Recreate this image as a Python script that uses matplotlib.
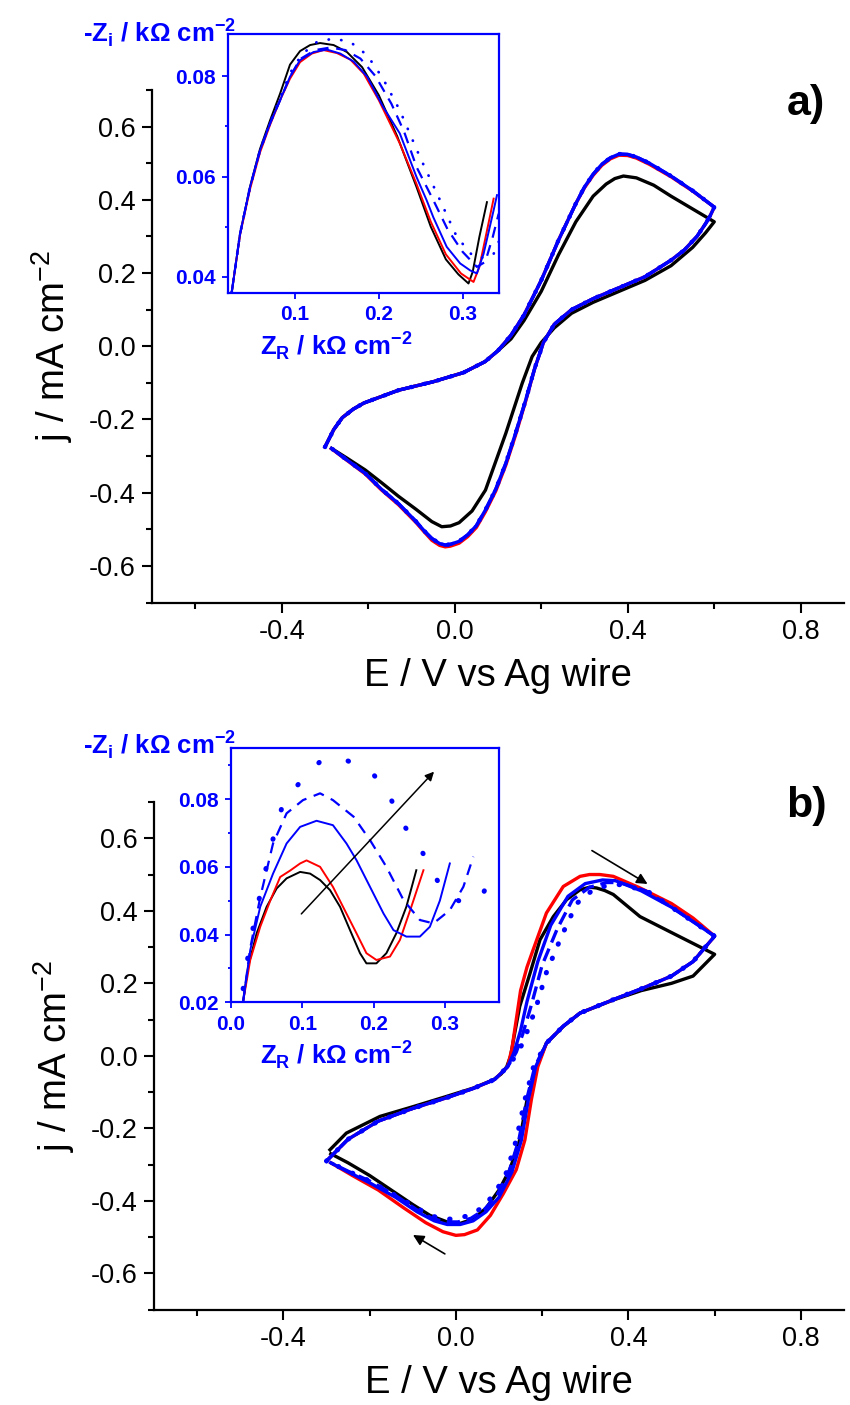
import numpy as np
import matplotlib
matplotlib.use("Agg")
import matplotlib.pyplot as plt
from matplotlib.ticker import MultipleLocator, FormatStrFormatter

plt.rcParams['font.family'] = ['Liberation Sans', 'DejaVu Sans']
plt.rcParams['axes.unicode_minus'] = False
plt.rcParams['mathtext.fontset'] = 'custom'
plt.rcParams['mathtext.rm'] = 'Liberation Sans'
plt.rcParams['mathtext.bf'] = 'Liberation Sans:bold'

# ---------------- panel a : main CVs ----------------
a_blk_E = [-0.30, -0.28, -0.26, -0.235, -0.21, -0.13, -0.05, 0.02, 0.07, 0.10, 0.13, 0.16, 0.20, 0.24, 0.28, 0.32, 0.35, 0.37, 0.39, 0.42, 0.46, 0.50, 0.55, 0.60,
           0.59, 0.58, 0.55, 0.50, 0.44, 0.38, 0.32, 0.27, 0.23, 0.20, 0.179, 0.156, 0.118, 0.071, 0.04, 0.01, -0.01, -0.03, -0.053, -0.09, -0.13, -0.17, -0.207, -0.25, -0.285]
a_blk_j = [-0.275, -0.228, -0.195, -0.172, -0.155, -0.12, -0.097, -0.072, -0.042, -0.012, 0.02, 0.07, 0.15, 0.25, 0.34, 0.41, 0.443, 0.458, 0.465, 0.46, 0.44, 0.41, 0.375, 0.34,
           0.325, 0.31, 0.27, 0.22, 0.18, 0.15, 0.12, 0.09, 0.05, 0.01, -0.028, -0.101, -0.238, -0.393, -0.45, -0.482, -0.491, -0.493, -0.479, -0.445, -0.41, -0.372, -0.338, -0.305, -0.279]

a_blu_E = [-0.30, -0.28, -0.26, -0.235, -0.21, -0.13, -0.05, 0.02, 0.07, 0.10, 0.13, 0.16, 0.20, 0.24, 0.28, 0.30, 0.32, 0.34, 0.36, 0.38, 0.40, 0.42, 0.45, 0.50, 0.55, 0.60,
           0.59, 0.58, 0.56, 0.53, 0.50, 0.44, 0.38, 0.32, 0.27, 0.23, 0.205, 0.185, 0.164, 0.14, 0.118, 0.095, 0.071, 0.05, 0.03, 0.01, -0.01, -0.022, -0.035, -0.053, -0.07, -0.09, -0.13, -0.17, -0.207, -0.25, -0.285]
a_blu_j = [-0.275, -0.228, -0.195, -0.172, -0.155, -0.12, -0.097, -0.072, -0.042, -0.012, 0.03, 0.085, 0.18, 0.29, 0.39, 0.435, 0.47, 0.497, 0.515, 0.525, 0.524, 0.517, 0.50, 0.465, 0.425, 0.38,
           0.355, 0.335, 0.30, 0.262, 0.235, 0.19, 0.16, 0.13, 0.10, 0.06, 0.01, -0.06, -0.147, -0.24, -0.32, -0.39, -0.447, -0.49, -0.515, -0.533, -0.541, -0.543, -0.539, -0.525, -0.505, -0.478, -0.43, -0.39, -0.347, -0.31, -0.279]

a_red_j = [-0.275, -0.228, -0.195, -0.172, -0.155, -0.12, -0.097, -0.072, -0.042, -0.012, 0.03, 0.085, 0.18, 0.29, 0.39, 0.433, 0.467, 0.494, 0.512, 0.522, 0.521, 0.514, 0.497, 0.463, 0.424, 0.38,
           0.355, 0.335, 0.30, 0.262, 0.235, 0.19, 0.16, 0.13, 0.10, 0.06, 0.01, -0.06, -0.15, -0.245, -0.325, -0.395, -0.452, -0.495, -0.52, -0.538, -0.546, -0.548, -0.544, -0.53, -0.508, -0.481, -0.433, -0.392, -0.349, -0.311, -0.28]

# ---------------- panel b : main CVs ----------------
b_blk_E = [-0.292, -0.254, -0.176, -0.099, -0.022, 0.040, 0.087, 0.105, 0.118, 0.127, 0.136, 0.148, 0.172, 0.195, 0.226, 0.257, 0.288, 0.31, 0.326, 0.345, 0.365, 0.427, 0.50, 0.55, 0.60,
           0.55, 0.50, 0.43, 0.365, 0.288, 0.249, 0.21, 0.187, 0.165, 0.148, 0.125, 0.10, 0.07, 0.04, 0.01, -0.02, -0.06, -0.10, -0.15, -0.20, -0.25, -0.29]
b_blk_j = [-0.259, -0.213, -0.167, -0.140, -0.112, -0.089, -0.066, -0.05, -0.030, 0.00, 0.06, 0.136, 0.228, 0.320, 0.384, 0.431, 0.458, 0.465, 0.463, 0.456, 0.445, 0.384, 0.34, 0.31, 0.28,
           0.22, 0.20, 0.18, 0.154, 0.118, 0.081, 0.035, -0.03, -0.121, -0.232, -0.314, -0.37, -0.42, -0.45, -0.462, -0.458, -0.44, -0.41, -0.37, -0.33, -0.295, -0.27]

b_red_E = [-0.30, -0.25, -0.18, -0.10, -0.02, 0.04, 0.09, 0.12, 0.13, 0.14, 0.15, 0.165, 0.179, 0.21, 0.249, 0.288, 0.31, 0.334, 0.365, 0.427, 0.50, 0.55, 0.60,
           0.55, 0.50, 0.43, 0.365, 0.288, 0.249, 0.21, 0.19, 0.175, 0.16, 0.14, 0.11, 0.08, 0.05, 0.02, 0.0, -0.03, -0.07, -0.12, -0.18, -0.24, -0.29]
b_red_j = [-0.29, -0.23, -0.18, -0.145, -0.115, -0.09, -0.065, -0.03, 0.02, 0.10, 0.18, 0.245, 0.292, 0.394, 0.467, 0.495, 0.50, 0.50, 0.495, 0.463, 0.42, 0.38, 0.33,
           0.26, 0.22, 0.185, 0.155, 0.118, 0.082, 0.035, -0.03, -0.121, -0.232, -0.314, -0.38, -0.44, -0.48, -0.493, -0.495, -0.485, -0.46, -0.42, -0.37, -0.33, -0.295]

b_blu_E = [-0.30, -0.25, -0.18, -0.10, -0.02, 0.04, 0.09, 0.12, 0.135, 0.15, 0.165, 0.19, 0.22, 0.26, 0.30, 0.34, 0.37, 0.43, 0.50, 0.55, 0.60,
           0.55, 0.50, 0.43, 0.365, 0.288, 0.249, 0.21, 0.185, 0.168, 0.152, 0.13, 0.10, 0.07, 0.04, 0.01, -0.02, -0.05, -0.09, -0.14, -0.20, -0.25, -0.29]
b_blu_j = [-0.29, -0.23, -0.18, -0.145, -0.115, -0.09, -0.065, -0.03, 0.01, 0.07, 0.15, 0.26, 0.36, 0.44, 0.475, 0.485, 0.483, 0.455, 0.41, 0.37, 0.33,
           0.26, 0.22, 0.185, 0.155, 0.118, 0.082, 0.035, -0.03, -0.121, -0.232, -0.32, -0.39, -0.43, -0.455, -0.465, -0.465, -0.455, -0.43, -0.39, -0.35, -0.32, -0.295]

b_bda_E = [-0.30, -0.25, -0.18, -0.10, -0.02, 0.04, 0.09, 0.12, 0.14, 0.155, 0.175, 0.20, 0.235, 0.27, 0.31, 0.35, 0.38, 0.44, 0.50, 0.55, 0.60,
           0.55, 0.50, 0.43, 0.365, 0.288, 0.249, 0.21, 0.183, 0.164, 0.146, 0.123, 0.095, 0.065, 0.035, 0.005, -0.025, -0.055, -0.09, -0.14, -0.20, -0.25, -0.29]
b_bda_j = [-0.29, -0.23, -0.18, -0.145, -0.115, -0.09, -0.065, -0.03, 0.01, 0.06, 0.14, 0.25, 0.35, 0.43, 0.465, 0.478, 0.478, 0.455, 0.41, 0.37, 0.33,
           0.26, 0.22, 0.185, 0.155, 0.118, 0.082, 0.035, -0.03, -0.121, -0.232, -0.32, -0.385, -0.425, -0.448, -0.458, -0.458, -0.448, -0.425, -0.385, -0.345, -0.318, -0.295]

b_bdo_E = [-0.30, -0.25, -0.18, -0.10, -0.02, 0.04, 0.09, 0.12, 0.145, 0.16, 0.185, 0.21, 0.245, 0.28, 0.32, 0.36, 0.39, 0.45, 0.50, 0.55, 0.60,
           0.55, 0.50, 0.43, 0.365, 0.288, 0.249, 0.21, 0.18, 0.16, 0.14, 0.118, 0.09, 0.06, 0.03, 0.0, -0.03, -0.06, -0.09, -0.14, -0.20, -0.25, -0.29]
b_bdo_j = [-0.29, -0.23, -0.18, -0.145, -0.115, -0.09, -0.065, -0.03, 0.01, 0.05, 0.13, 0.23, 0.33, 0.42, 0.46, 0.472, 0.472, 0.45, 0.41, 0.37, 0.33,
           0.26, 0.22, 0.185, 0.155, 0.118, 0.082, 0.035, -0.03, -0.121, -0.232, -0.32, -0.38, -0.42, -0.44, -0.45, -0.45, -0.44, -0.42, -0.385, -0.345, -0.318, -0.295]

# ---------------- inset a : Nyquist ----------------
ia_blu_x = [0.0245, 0.0344, 0.0463, 0.0582, 0.0702, 0.0821, 0.094, 0.106, 0.122, 0.138, 0.154, 0.170, 0.186, 0.205, 0.225, 0.245, 0.257, 0.265, 0.281, 0.297, 0.309, 0.317, 0.325, 0.337, 0.341]
ia_blu_y = [0.0370, 0.0486, 0.0579, 0.0652, 0.0706, 0.0752, 0.0799, 0.0832, 0.0848, 0.0853, 0.0845, 0.0829, 0.0799, 0.0739, 0.0686, 0.0599, 0.0553, 0.0519, 0.0460, 0.0427, 0.0413, 0.0407, 0.0446, 0.0533, 0.0563]
ia_blk_x = [0.0245, 0.0344, 0.0463, 0.0582, 0.0702, 0.0821, 0.094, 0.106, 0.118, 0.130, 0.146, 0.162, 0.180, 0.200, 0.222, 0.245, 0.262, 0.280, 0.295, 0.307, 0.312, 0.320, 0.329]
ia_blk_y = [0.0370, 0.0486, 0.0580, 0.0655, 0.0712, 0.0765, 0.0823, 0.0850, 0.0862, 0.0866, 0.0862, 0.0848, 0.0818, 0.0762, 0.0680, 0.0579, 0.0500, 0.0435, 0.0405, 0.0387, 0.0410, 0.0480, 0.0549]
ia_red_x = [0.0245, 0.0344, 0.0463, 0.0582, 0.0702, 0.0821, 0.094, 0.106, 0.120, 0.134, 0.150, 0.166, 0.182, 0.200, 0.225, 0.245, 0.262, 0.280, 0.298, 0.313, 0.320, 0.330, 0.337]
ia_red_y = [0.0370, 0.0484, 0.0575, 0.0648, 0.0703, 0.0752, 0.0795, 0.0828, 0.0845, 0.0852, 0.0846, 0.0833, 0.0805, 0.0752, 0.0666, 0.0585, 0.0510, 0.0445, 0.0407, 0.0390, 0.0420, 0.0500, 0.0556]
ia_bda_x = [0.0245, 0.0344, 0.0463, 0.0582, 0.0702, 0.0821, 0.094, 0.106, 0.124, 0.142, 0.160, 0.178, 0.196, 0.215, 0.230, 0.245, 0.265, 0.282, 0.300, 0.317, 0.327, 0.336, 0.343]
ia_bda_y = [0.0370, 0.0486, 0.0579, 0.0652, 0.0706, 0.0752, 0.0799, 0.0834, 0.0852, 0.0857, 0.0852, 0.0835, 0.0800, 0.0745, 0.0690, 0.0619, 0.0553, 0.0495, 0.0450, 0.0420, 0.0430, 0.0480, 0.0526]
ia_bdo_x = [0.0245, 0.0344, 0.0463, 0.0582, 0.0702, 0.0821, 0.094, 0.108, 0.126, 0.146, 0.166, 0.186, 0.205, 0.225, 0.249, 0.273, 0.293, 0.313, 0.327, 0.337, 0.343]
ia_bdo_y = [0.0370, 0.0486, 0.0579, 0.0652, 0.0708, 0.0756, 0.0806, 0.0843, 0.0868, 0.0875, 0.0868, 0.0842, 0.0795, 0.0732, 0.0639, 0.0553, 0.0480, 0.0440, 0.0438, 0.0446, 0.0470]

# ---------------- inset b : Nyquist ----------------
ib_blk_x = [0.017, 0.024, 0.036, 0.050, 0.064, 0.078, 0.097, 0.111, 0.125, 0.139, 0.153, 0.167, 0.181, 0.190, 0.204, 0.218, 0.232, 0.246, 0.260]
ib_blk_y = [0.0202, 0.0305, 0.0404, 0.0482, 0.0536, 0.0566, 0.0585, 0.0580, 0.0561, 0.0531, 0.0482, 0.0413, 0.0345, 0.0315, 0.0315, 0.0345, 0.0404, 0.0482, 0.0590]
ib_red_x = [0.017, 0.027, 0.041, 0.055, 0.069, 0.083, 0.097, 0.106, 0.125, 0.143, 0.162, 0.176, 0.190, 0.204, 0.223, 0.237, 0.253, 0.270]
ib_red_y = [0.0202, 0.0325, 0.0423, 0.0500, 0.0570, 0.0589, 0.0610, 0.0619, 0.0600, 0.0541, 0.0462, 0.0404, 0.0345, 0.0325, 0.0335, 0.0384, 0.0482, 0.0590]
ib_blu_x = [0.017, 0.027, 0.041, 0.059, 0.078, 0.097, 0.120, 0.143, 0.162, 0.176, 0.195, 0.214, 0.228, 0.246, 0.265, 0.279, 0.293, 0.307]
ib_blu_y = [0.0202, 0.0354, 0.0482, 0.0580, 0.0669, 0.0718, 0.0736, 0.0723, 0.0669, 0.0620, 0.0541, 0.0462, 0.0413, 0.0394, 0.0394, 0.0423, 0.0500, 0.0610]
ib_bda_x = [0.017, 0.027, 0.041, 0.059, 0.078, 0.101, 0.125, 0.143, 0.172, 0.195, 0.218, 0.242, 0.265, 0.284, 0.307, 0.326, 0.340]
ib_bda_y = [0.0202, 0.0360, 0.0510, 0.0669, 0.0758, 0.0797, 0.0817, 0.0797, 0.0748, 0.0679, 0.0600, 0.0502, 0.0443, 0.0433, 0.0472, 0.0541, 0.0630]
ib_bdo_x = [0.017, 0.027, 0.041, 0.056, 0.073, 0.101, 0.127, 0.162, 0.200, 0.225, 0.244, 0.267, 0.298, 0.326, 0.354, 0.368]
ib_bdo_y = [0.0240, 0.0380, 0.0520, 0.0660, 0.0787, 0.0861, 0.0915, 0.0915, 0.0873, 0.0797, 0.0718, 0.0649, 0.0526, 0.0492, 0.0521, 0.0600]

BLUE = '#0000ff'
RED = '#ff0000'

W, H = 850, 1405
fig = plt.figure(figsize=(W / 100, H / 100), dpi=100)


def px(x, y, w, h):
    return [x / W, 1 - (y + h) / H, w / W, h / H]


def style_main(ax):
    ax.set_xlim(-0.7, 0.9)
    ax.set_ylim(-0.7, 0.7)
    for s in ['top', 'right']:
        ax.spines[s].set_visible(False)
    for s in ['left', 'bottom']:
        ax.spines[s].set_linewidth(1.6)
    ax.xaxis.set_major_locator(MultipleLocator(0.4))
    ax.xaxis.set_minor_locator(MultipleLocator(0.2))
    ax.yaxis.set_major_locator(MultipleLocator(0.2))
    ax.yaxis.set_minor_locator(MultipleLocator(0.1))
    ax.xaxis.set_major_formatter(FormatStrFormatter('%.1f'))
    ax.yaxis.set_major_formatter(FormatStrFormatter('%.1f'))
    ax.tick_params(which='major', direction='out', length=7, width=1.5, labelsize=19.5, pad=5)
    ax.tick_params(which='minor', direction='out', length=4.5, width=1.5)
    ax.set_xticks([-0.4, 0.0, 0.4, 0.8])
    ax.set_yticks([-0.6, -0.4, -0.2, 0.0, 0.2, 0.4, 0.6])
    ax.set_xlabel('E / V vs Ag wire', fontsize=27.5, labelpad=9)
    ax.set_ylabel('j / mA cm$^{-2}$', fontsize=27.5, labelpad=10)


def style_inset(ax):
    for s in ax.spines.values():
        s.set_color(BLUE)
        s.set_linewidth(1.6)
    ax.tick_params(which='both', colors=BLUE, direction='out', width=1.3)
    ax.tick_params(which='major', length=4, labelsize=15, pad=5)
    ax.tick_params(which='minor', length=2.5)
    for t in ax.get_xticklabels() + ax.get_yticklabels():
        t.set_fontweight('bold')
        t.set_color(BLUE)


# ---------- panel a ----------
axa = fig.add_axes(px(152, 90, 692, 512.5))
style_main(axa)
lw = 2.4
axa.plot(a_blk_E, a_blk_j, color='k', lw=lw)
axa.plot(a_blu_E, a_red_j, color=RED, lw=lw)
axa.plot(a_blu_E, a_blu_j, color=BLUE, lw=lw)
axa.plot(a_blu_E, a_blu_j, color=BLUE, lw=lw, ls=(0, (4, 2)))
axa.plot(a_blu_E, a_blu_j, color=BLUE, lw=3.2, ls=(0, (0.1, 3)), dash_capstyle='round')

# ---------- panel b ----------
axb = fig.add_axes(px(154, 802, 690, 507.7))
style_main(axb)
axb.plot(b_blk_E, b_blk_j, color='k', lw=lw)
axb.plot(b_red_E, b_red_j, color=RED, lw=lw)
axb.plot(b_blu_E, b_blu_j, color=BLUE, lw=lw)
axb.plot(b_bda_E, b_bda_j, color=BLUE, lw=lw, ls=(0, (4, 2)))
axb.plot(b_bdo_E, b_bdo_j, color=BLUE, lw=3.6, ls=(0, (0.1, 3)), dash_capstyle='round')
axb.annotate('', xy=(0.45, 0.47), xytext=(0.31, 0.57),
             arrowprops=dict(arrowstyle='-|>', color='k', lw=1.2, mutation_scale=16))
axb.annotate('', xy=(-0.105, -0.49), xytext=(-0.02, -0.55),
             arrowprops=dict(arrowstyle='-|>', color='k', lw=1.2, mutation_scale=16))

# ---------- inset a ----------
ia = fig.add_axes(px(228, 34, 271, 259))
ia.set_xlim(0.02, 0.3434)
ia.set_ylim(0.0368, 0.0884)
ia.xaxis.set_major_locator(MultipleLocator(0.1))
ia.yaxis.set_major_locator(MultipleLocator(0.02))
ia.yaxis.set_minor_locator(MultipleLocator(0.01))
ia.xaxis.set_major_formatter(FormatStrFormatter('%.1f'))
ia.yaxis.set_major_formatter(FormatStrFormatter('%.2f'))
style_inset(ia)
ilw = 1.4
ia.plot(ia_blk_x, ia_blk_y, color='k', lw=ilw)
ia.plot(ia_red_x, ia_red_y, color=RED, lw=ilw)
ia.plot(ia_blu_x, ia_blu_y, color=BLUE, lw=ilw)
ia.plot(ia_bda_x, ia_bda_y, color=BLUE, lw=1.6, ls=(0, (5, 3.5)))
ia.plot(ia_bdo_x, ia_bdo_y, color=BLUE, lw=2.0, ls=(0, (0.1, 4.5)), dash_capstyle='round')

# ---------- inset b ----------
ib = fig.add_axes(px(231, 748.3, 268, 254))
ib.set_xlim(0.0, 0.376)
ib.set_ylim(0.02, 0.095)
ib.xaxis.set_major_locator(MultipleLocator(0.1))
ib.yaxis.set_major_locator(MultipleLocator(0.02))
ib.yaxis.set_minor_locator(MultipleLocator(0.01))
ib.xaxis.set_major_formatter(FormatStrFormatter('%.1f'))
ib.yaxis.set_major_formatter(FormatStrFormatter('%.2f'))
style_inset(ib)
ib.plot(ib_blk_x, ib_blk_y, color='k', lw=ilw)
ib.plot(ib_red_x, ib_red_y, color=RED, lw=ilw)
ib.plot(ib_blu_x, ib_blu_y, color=BLUE, lw=ilw)
ib.plot(ib_bda_x, ib_bda_y, color=BLUE, lw=1.6, ls=(0, (5, 3.5)))
ib.plot(ib_bdo_x, ib_bdo_y, color=BLUE, lw=3.6, ls=(0, (0.1, 6)), dash_capstyle='round')
ib.annotate('', xy=(0.2875, 0.0887), xytext=(0.096, 0.0455),
            arrowprops=dict(arrowstyle='-|>', color='k', lw=1.1, mutation_scale=13))


# ---------- free texts ----------
def ftxt(x, y, s, **kw):
    fig.text(x / W, 1 - y / H, s, **kw)


zi = r'-Z$_\mathbf{i}$ / k$\mathbf{\Omega}$ cm$^\mathbf{-2}$'
zr = r'Z$_\mathbf{R}$ / k$\mathbf{\Omega}$ cm$^\mathbf{-2}$'
ftxt(160, 33, zi, fontsize=18.5, fontweight='bold', color=BLUE, ha='center', va='center')
ftxt(160, 745, zi, fontsize=18.5, fontweight='bold', color=BLUE, ha='center', va='center')
ftxt(336, 346, zr, fontsize=18.5, fontweight='bold', color=BLUE, ha='center', va='center')
ftxt(336, 1055, zr, fontsize=18.5, fontweight='bold', color=BLUE, ha='center', va='center')

ftxt(806, 104, 'a)', fontsize=31, fontweight='bold', ha='center', va='center')
ftxt(806, 806, 'b)', fontsize=31, fontweight='bold', ha='center', va='center')

fig.savefig('out.png', dpi=100)
